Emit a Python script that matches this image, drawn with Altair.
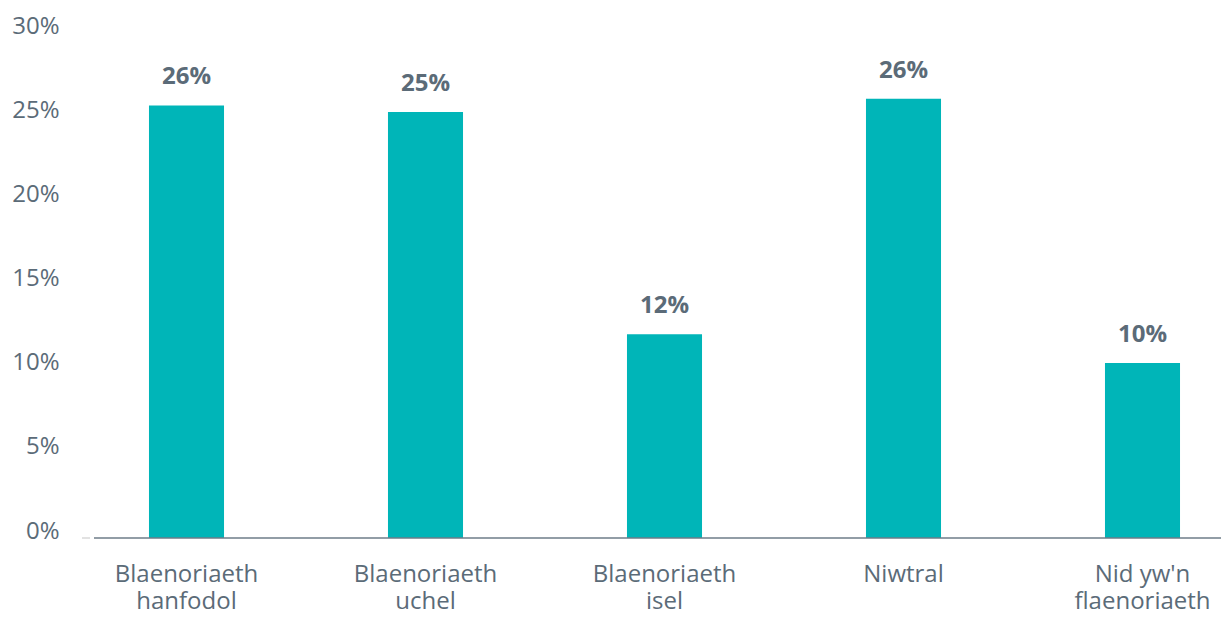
import altair as alt
import pandas as pd

categories = ["Blaenoriaeth|hanfodol", "Blaenoriaeth|uchel", "Blaenoriaeth|isel", "Niwtral", "Nid yw'n|flaenoriaeth"]
values = [25.7, 25.3, 12.1, 26.1, 10.4]
labels = ["26%", "25%", "12%", "26%", "10%"]
y_ticks = [0, 5, 10, 15, 20, 25, 30]

df = pd.DataFrame({"cat": categories, "val": values, "lab": labels})

TEXT = "#5B6B78"
BAR = "#00B5B8"
FONT = "Open Sans"

xscale = alt.Scale(range=[0, 1195], paddingInner=0.686, paddingOuter=0.343)
yscale = alt.Scale(domain=[0, 30], nice=False)

x_enc = alt.X("cat:N", sort=categories, scale=xscale, title=None,
              axis=alt.Axis(labelExpr="split(datum.label, '|')", labelAngle=0,
                            labelFont=FONT, labelFontSize=24, labelColor=TEXT,
                            labelLineHeight=27, labelPadding=43, labelBaseline="alphabetic",
                            ticks=False, domain=False, labelLimit=400))
y_enc = alt.Y("val:Q", scale=yscale, title=None,
              axis=alt.Axis(values=y_ticks, labelExpr="datum.value + '%'",
                            labelFont=FONT, labelFontSize=24, labelColor=TEXT,
                            labelBaseline="alphabetic", labelPadding=8,
                            ticks=False, domain=False, grid=False))

bars = alt.Chart(df).mark_bar(color=BAR).encode(x=x_enc, y=y_enc)

text = alt.Chart(df).mark_text(font=FONT, fontSize=24, fontWeight="bold",
                               color=TEXT, baseline="alphabetic", dy=-21).encode(
    x=alt.X("cat:N", sort=categories, scale=xscale),
    y=alt.Y("val:Q", scale=yscale),
    text="lab:N")

base_df = pd.DataFrame({"v": [0]})
baseline = alt.Chart(base_df).mark_rule(color="#6E7D89", strokeWidth=1.5).encode(
    y=alt.Y("v:Q", scale=yscale), x=alt.value(27), x2=alt.value(1154))
dash = alt.Chart(base_df).mark_rule(color="#D9D9D9", strokeWidth=1.5).encode(
    y=alt.Y("v:Q", scale=yscale), x=alt.value(15), x2=alt.value(23))

chart = alt.layer(bars, baseline, dash, text).properties(
    width=1154, height=505,
    autosize=alt.AutoSizeParams(type="none"),
    padding={"left": 59, "top": 25, "right": 0, "bottom": 75},
).configure_view(strokeWidth=0, stroke="transparent")

chart.save("out.html", embed_options={"renderer": "svg", "actions": False})
